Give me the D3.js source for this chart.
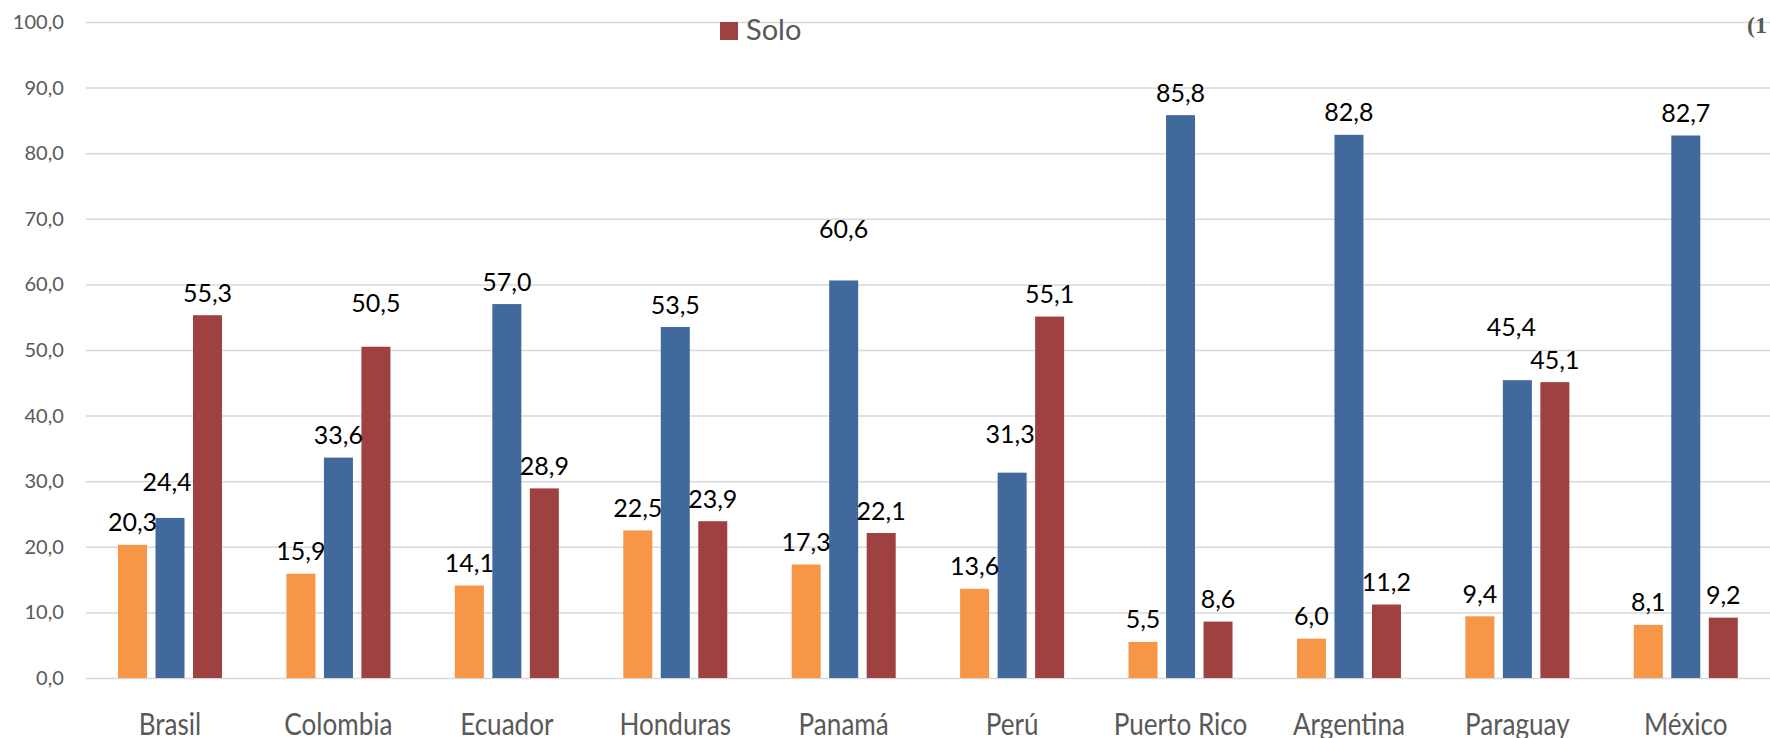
<!DOCTYPE html>
<html>
<head>
<meta charset="utf-8">
<script src="https://cdn.jsdelivr.net/npm/d3@7"></script>
<style>
    body { margin: 0; background: #fff; }
    svg { display: block; }
</style>
</head>
<body>
<script>
// categories (countries) and the three series; only "Solo" is readable in the legend
const categories = ["Brasil", "Colombia", "Ecuador", "Honduras", "Panamá", "Perú", "Puerto Rico", "Argentina", "Paraguay", "México"];
const seriesNames = ["Serie 1", "Serie 2", "Solo"];
const serie1 = [20.3, 15.9, 14.1, 22.5, 17.3, 13.6, 5.5, 6.0, 9.4, 8.1];
const serie2 = [24.4, 33.6, 57.0, 53.5, 60.6, 31.3, 85.8, 82.8, 45.4, 82.7];
const solo = [55.3, 50.5, 28.9, 23.9, 22.1, 55.1, 8.6, 11.2, 45.1, 9.2];
const yTicks = [0, 10, 20, 30, 40, 50, 60, 70, 80, 90, 100];

// labels that were moved by hand in the original chart (pixels)
const labelShift = [
    {cat: "Brasil", s: 1, dx: -3, dy: -13},
    {cat: "Colombia", s: 2, dx: 0, dy: -21},
    {cat: "Panamá", s: 1, dx: 0, dy: -29},
    {cat: "Perú", s: 1, dx: -2, dy: -16},
    {cat: "Paraguay", s: 1, dx: -6, dy: -31}
];

const colors = ["#F79646", "#41699C", "#9E4140"];

const svgWidth = 1770;
const svgHeight = 738;
const plot = {left: 85.8, right: 1770, top: 22, bottom: 678};

const fmt = v => d3.format(".1f")(v).replace(".", ",");

const svg = d3.select("body").append("svg")
    .attr("width", svgWidth)
    .attr("height", svgHeight);

const scaleX = d3.scaleBand()
    .domain(categories)
    .range([plot.left, plot.right])
    .paddingInner(0)
    .paddingOuter(0);

const scaleInner = d3.scaleBand()
    .domain(d3.range(seriesNames.length))
    .range([-52, 52])
    .paddingInner(0.2267)
    .paddingOuter(0);

const scaleY = d3.scaleLinear()
    .domain([0, 100])
    .range([plot.bottom, plot.top]);

// y axis + gridlines
const yAxis = svg.append("g")
    .attr("transform", `translate(${plot.left},0)`)
    .call(d3.axisLeft(scaleY)
        .tickValues(yTicks)
        .tickSize(-(plot.right - plot.left))
        .tickPadding(22)
        .tickFormat(fmt));
yAxis.select(".domain").remove();
yAxis.selectAll(".tick line")
    .attr("stroke", "#d9d9d9")
    .attr("stroke-width", 1.5);
yAxis.selectAll(".tick text")
    .attr("fill", "#595959")
    .style("font-family", "Lato, 'Open Sans', sans-serif")
    .style("font-size", "20px");

// x axis labels (narrowed a bit to look like the original condensed font)
const xAxis = svg.append("g")
    .attr("transform", `translate(0,${plot.bottom})`)
    .call(d3.axisBottom(scaleX).tickSize(0));
xAxis.select(".domain").remove();
xAxis.selectAll(".tick text")
    .attr("dy", null)
    .attr("y", 57)
    .attr("transform", "scale(0.87,1)")
    .attr("fill", "#595959")
    .style("font-family", "Lato, 'Open Sans', sans-serif")
    .style("font-size", "30px");

// bars
const table = [];
[serie1, serie2, solo].forEach((vals, s) => {
    vals.forEach((v, i) => table.push({cat: categories[i], s: s, value: v}));
});

const barX = d => scaleX(d.cat) + scaleX.bandwidth() / 2 + scaleInner(d.s);

svg.append("g")
    .selectAll("rect")
    .data(table)
    .join("rect")
    .attr("x", d => barX(d))
    .attr("y", d => scaleY(d.value))
    .attr("width", scaleInner.bandwidth())
    .attr("height", d => scaleY(0) - scaleY(d.value))
    .attr("fill", d => colors[d.s]);

// data labels
const shiftOf = d => labelShift.find(o => o.cat === d.cat && o.s === d.s) || {dx: 0, dy: 0};

svg.append("g")
    .selectAll("text")
    .data(table)
    .join("text")
    .attr("x", d => barX(d) + scaleInner.bandwidth() / 2 + shiftOf(d).dx)
    .attr("y", d => scaleY(d.value) - 23.5 + shiftOf(d).dy)
    .attr("text-anchor", "middle")
    .attr("dominant-baseline", "central")
    .attr("fill", "#000")
    .style("font-family", "Lato, 'Open Sans', sans-serif")
    .style("font-size", "25px")
    .text(d => fmt(d.value));

// legend (only the last entry is inside the picture)
const legend = svg.append("g").attr("transform", "translate(720,22)");
legend.append("rect")
    .attr("width", 18)
    .attr("height", 18)
    .attr("fill", colors[2]);
legend.append("text")
    .attr("x", 26)
    .attr("y", 18)
    .attr("fill", "#595959")
    .style("font-family", "Lato, 'Open Sans', sans-serif")
    .style("font-size", "29px")
    .text(seriesNames[2]);

// note cut off at the right edge
svg.append("text")
    .attr("x", 1747)
    .attr("y", 33)
    .attr("fill", "#595959")
    .style("font-family", "'Liberation Serif', serif")
    .style("font-weight", "bold")
    .style("font-size", "24px")
    .text("(1");
</script>
</body>
</html>
